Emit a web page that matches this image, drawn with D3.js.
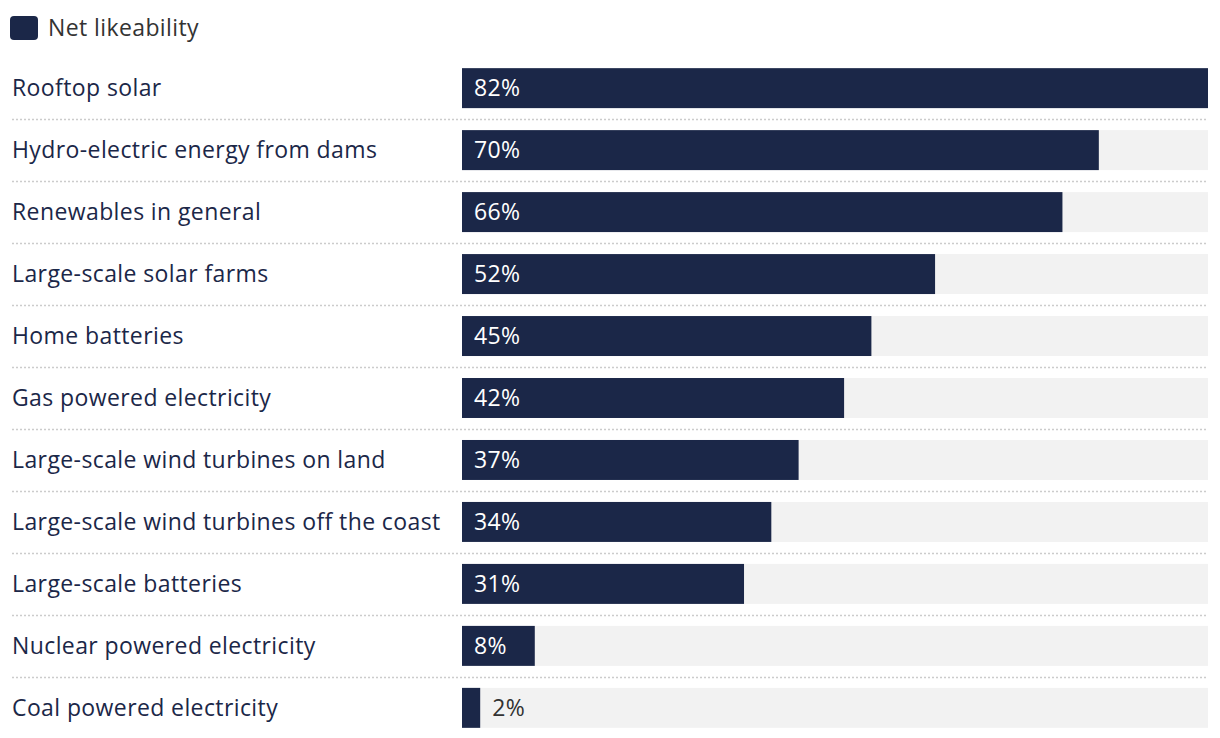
<!DOCTYPE html>
<html>
<head>
<meta charset="utf-8">
<script src="https://cdn.jsdelivr.net/npm/d3@7"></script>
<style>
  html, body { margin: 0; padding: 0; background: #fff; }
  svg { display: block; }
  text { font-family: "Open Sans", "Noto Sans", sans-serif; letter-spacing: 0.4px; }
</style>
</head>
<body>
<svg id="chart" width="1220" height="738"></svg>
<script>
const categories = [
  "Rooftop solar",
  "Hydro-electric energy from dams",
  "Renewables in general",
  "Large-scale solar farms",
  "Home batteries",
  "Gas powered electricity",
  "Large-scale wind turbines on land",
  "Large-scale wind turbines off the coast",
  "Large-scale batteries",
  "Nuclear powered electricity",
  "Coal powered electricity"
];
const values = [82, 70, 66, 52, 45, 42, 37, 34, 31, 8, 2];
const seriesName = "Net likeability";

const W = 1220, H = 738;
const barLeft = 462, barRight = 1208;
const svg = d3.select("#chart");
const navy = "#1b2748";
const fs = 23;

const x = d3.scaleLinear().domain([0, d3.max(values)]).range([barLeft, barRight]);
const y = d3.scaleBand().domain(categories).range([57, 739]).paddingInner(0.355).paddingOuter(0.18);

// legend
svg.append("rect").attr("x", 10).attr("y", 16).attr("width", 28).attr("height", 24)
  .attr("rx", 4).attr("fill", navy);
svg.append("text").attr("x", 48).attr("y", 36).attr("font-size", fs).attr("fill", "#333")
  .text(seriesName);

const step = y.step();
const rows = svg.append("g").selectAll("g").data(categories).join("g");

// background track
rows.append("rect").attr("x", barLeft).attr("width", barRight - barLeft)
  .attr("y", d => y(d)).attr("height", y.bandwidth()).attr("fill", "#f2f2f2");
// bars
rows.append("rect").attr("x", barLeft).attr("width", (d, i) => x(values[i]) - barLeft)
  .attr("y", d => y(d)).attr("height", y.bandwidth()).attr("fill", navy);
// category labels
rows.append("text").attr("x", 12).attr("y", d => y(d) + y.bandwidth() / 2)
  .attr("dy", "0.35em").attr("font-size", fs).attr("fill", navy).text(d => d);
// value labels
rows.append("text")
  .attr("x", (d, i) => values[i] < 5 ? x(values[i]) + 12 : barLeft + 12)
  .attr("y", d => y(d) + y.bandwidth() / 2).attr("dy", "0.35em").attr("font-size", fs)
  .attr("fill", (d, i) => values[i] < 5 ? "#333" : "#fff")
  .text((d, i) => values[i] + "%");
// separators
svg.append("g").selectAll("line").data(categories.slice(0, -1)).join("line")
  .attr("x1", 12).attr("x2", barRight)
  .attr("y1", d => Math.round(y(d) + y.bandwidth() + (step - y.bandwidth()) / 2) + 0.5)
  .attr("y2", d => Math.round(y(d) + y.bandwidth() + (step - y.bandwidth()) / 2) + 0.5)
  .attr("stroke", "#ccc").attr("stroke-width", 1.5).attr("stroke-dasharray", "2,2");
</script>
</body>
</html>
